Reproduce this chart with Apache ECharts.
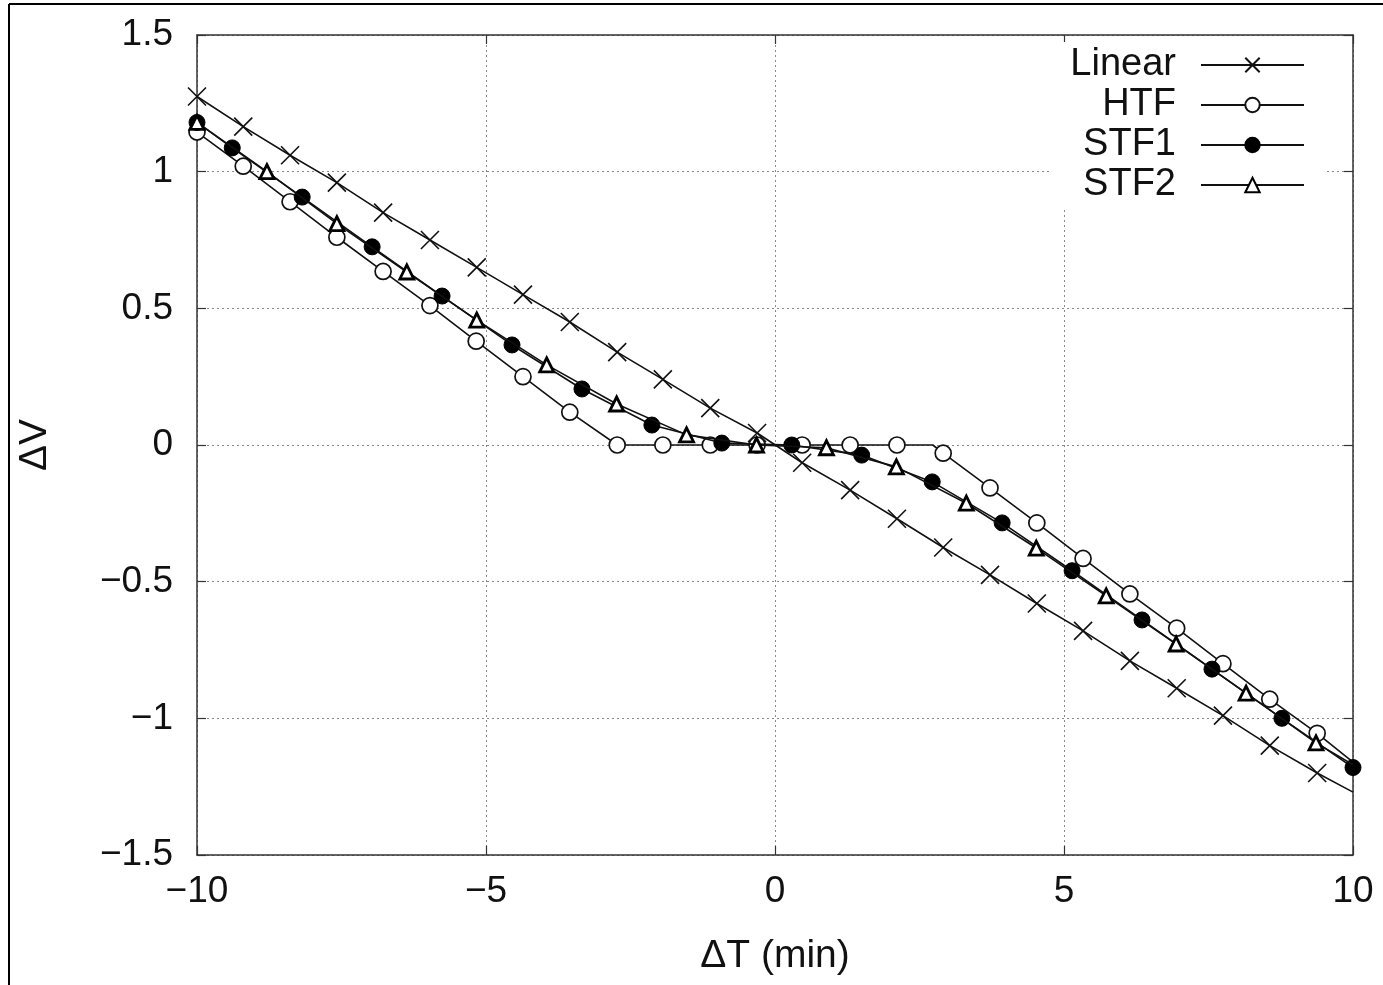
<!DOCTYPE html>
<html>
<head>
<meta charset="utf-8">
<script src="https://cdn.jsdelivr.net/npm/echarts@6/dist/echarts.min.js"></script>
<style>
html,body{margin:0;padding:0;background:#fff;}
#chart{width:1383px;height:985px;}
</style>
</head>
<body>
<div id="chart"></div>
<script>
// ---- data ----
const seriesNames = ['Linear', 'HTF', 'STF1', 'STF2'];

const linearT = [-10, -9.2, -8.39, -7.58, -6.78, -5.97, -5.16, -4.36, -3.55, -2.73, -1.94, -1.12, -0.31, 0.47, 1.30, 2.11, 2.91, 3.72, 4.53, 5.33, 6.14, 6.95, 7.75, 8.56, 9.38, 10];
const linearV = [1.275, 1.165, 1.06, 0.96, 0.85, 0.75, 0.65, 0.55, 0.45, 0.34, 0.24, 0.135, 0.044, -0.065, -0.165, -0.27, -0.375, -0.475, -0.58, -0.68, -0.79, -0.89, -0.99, -1.10, -1.20, -1.27];
const linearMarked = [1,1,1,1,1,1,1,1,1,1,1,1,1,1,1,1,1,1,1,1,1,1,1,1,1,0];

const htfT = [-10, -9.2, -8.39, -7.58, -6.78, -5.97, -5.17, -4.36, -3.55, -2.73, -1.94, -1.12, -0.31, 0.47, 1.30, 2.11, 2.73, 2.91, 3.72, 4.53, 5.33, 6.14, 6.95, 7.75, 8.56, 9.38, 10];
const htfV = [1.145, 1.02, 0.89, 0.76, 0.635, 0.51, 0.38, 0.25, 0.12, 0, 0, 0, 0, 0, 0, 0, 0, -0.03, -0.157, -0.285, -0.415, -0.545, -0.67, -0.80, -0.93, -1.055, -1.16];
const htfMarked = [1,1,1,1,1,1,1,1,1,1,1,1,1,1,1,1,0,1,1,1,1,1,1,1,1,1,0];

const stf1T = [-10, -9.39, -8.18, -6.97, -5.76, -4.55, -3.34, -2.13, -0.92, 0.29, 1.50, 2.72, 3.93, 5.14, 6.35, 7.56, 8.77, 10];
const stf1V = [1.18, 1.087, 0.907, 0.725, 0.545, 0.366, 0.205, 0.073, 0.007, 0, -0.037, -0.135, -0.285, -0.46, -0.64, -0.82, -1.0, -1.18];
const stf1Marked = [1,1,1,1,1,1,1,1,1,1,1,1,1,1,1,1,1,1];

const stf2T = [-10, -8.79, -7.58, -6.37, -5.16, -3.95, -2.74, -1.53, -0.32, 0.89, 2.10, 3.31, 4.52, 5.73, 6.94, 8.15, 9.36, 10];
const stf2V = [1.18, 1.0, 0.81, 0.633, 0.457, 0.293, 0.15, 0.037, 0, -0.01, -0.08, -0.213, -0.377, -0.552, -0.728, -0.908, -1.09, -1.17];
const stf2Marked = [1,1,1,1,1,1,1,1,1,1,1,1,1,1,1,1,1,0];

const xTicks = [-10, -5, 0, 5, 10];
const yTicks = [-1.5, -1, -0.5, 0, 0.5, 1, 1.5];

// ---- build ----
function pts(T, V, M) {
  return T.map((t, i) => M[i] ? [t, V[i]] : { value: [t, V[i]], symbol: 'none' });
}
const fmt = v => (v < 0 ? '\u2212' : '') + String(Math.abs(v));
const FONT = 'Liberation Sans';
const INK = '#111';

const chart = echarts.init(document.getElementById('chart'), null, { renderer: 'canvas' });

const baseAxis = {
  type: 'value',
  axisLine: { show: true, onZero: false, lineStyle: { color: '#333', width: 1.5 } },
  axisTick: { show: true, inside: true, length: 9, lineStyle: { color: '#333', width: 1.2 } },
  splitLine: { show: false },
  axisLabel: { show: false }
};

const option = {
  backgroundColor: '#fff',
  animation: false,
  grid: { left: 197, right: 30, top: 35, bottom: 130, containLabel: false },
  xAxis: [
    Object.assign({}, baseAxis, {
      position: 'bottom', min: xTicks[0], max: xTicks[xTicks.length - 1], interval: 5,
      name: '\u0394T (min)', nameLocation: 'middle', nameGap: 82,
      nameTextStyle: { fontFamily: FONT, fontSize: 39, color: INK },
      axisLabel: { show: true, formatter: fmt, fontFamily: FONT, fontSize: 37, color: INK, margin: 18 },
      splitLine: { show: true, lineStyle: { color: '#8a8a8a', type: [2, 3], width: 1 } }
    }),
    Object.assign({}, baseAxis, {
      position: 'top', min: xTicks[0], max: xTicks[xTicks.length - 1], interval: 5
    })
  ],
  yAxis: [
    Object.assign({}, baseAxis, {
      position: 'left', min: yTicks[0], max: yTicks[yTicks.length - 1], interval: 0.5,
      name: '\u0394V', nameLocation: 'middle', nameGap: 142, nameRotate: 90,
      nameTextStyle: { fontFamily: FONT, fontSize: 39, color: INK },
      axisLabel: { show: true, formatter: fmt, fontFamily: FONT, fontSize: 37, color: INK, margin: 24 },
      splitLine: { show: true, lineStyle: { color: '#8a8a8a', type: [2, 3], width: 1 } }
    }),
    Object.assign({}, baseAxis, {
      position: 'right', min: yTicks[0], max: yTicks[yTicks.length - 1], interval: 0.5
    })
  ],
  legend: {
    orient: 'vertical',
    right: 58,
    top: 42,
    align: 'right',
    itemWidth: 103,
    itemHeight: 18,
    itemGap: 2,
    padding: [4, 20, 6, 20],
    backgroundColor: '#fff',
    textStyle: { fontFamily: FONT, fontSize: 38, color: INK, lineHeight: 35, padding: [0, 20, 0, 0] },
    data: seriesNames
  },
  graphic: [
    { type: 'line', shape: { x1: 9, y1: 4, x2: 1383, y2: 4 }, style: { stroke: '#000', lineWidth: 2 }, silent: true },
    { type: 'line', shape: { x1: 9, y1: 4, x2: 9, y2: 985 }, style: { stroke: '#000', lineWidth: 2 }, silent: true }
  ],
  series: [
    {
      name: seriesNames[0], type: 'line', data: pts(linearT, linearV, linearMarked),
      symbol: 'path://M0,0L10,10M10,0L0,10', symbolSize: 18, showAllSymbol: true,
      itemStyle: { color: 'rgba(0,0,0,0)', borderColor: INK, borderWidth: 1.6 },
      lineStyle: { color: INK, width: 1.6 }, z: 2
    },
    {
      name: seriesNames[1], type: 'line', data: pts(htfT, htfV, htfMarked),
      symbol: 'circle', symbolSize: 16, showAllSymbol: true,
      itemStyle: { color: '#fff', borderColor: INK, borderWidth: 1.7 },
      lineStyle: { color: INK, width: 1.6 }, z: 3
    },
    {
      name: seriesNames[2], type: 'line', data: pts(stf1T, stf1V, stf1Marked),
      symbol: 'circle', symbolSize: 16, showAllSymbol: true,
      itemStyle: { color: '#000', borderColor: '#000', borderWidth: 1 },
      lineStyle: { color: INK, width: 1.6 }, z: 4
    },
    {
      name: seriesNames[3], type: 'line', data: pts(stf2T, stf2V, stf2Marked),
      symbol: 'triangle', symbolSize: 14, showAllSymbol: true,
      itemStyle: { color: '#fff', borderColor: '#000', borderWidth: 2.8 },
      lineStyle: { color: INK, width: 1.6 }, z: 5
    }
  ]
};
chart.setOption(option);
</script>
</body>
</html>
